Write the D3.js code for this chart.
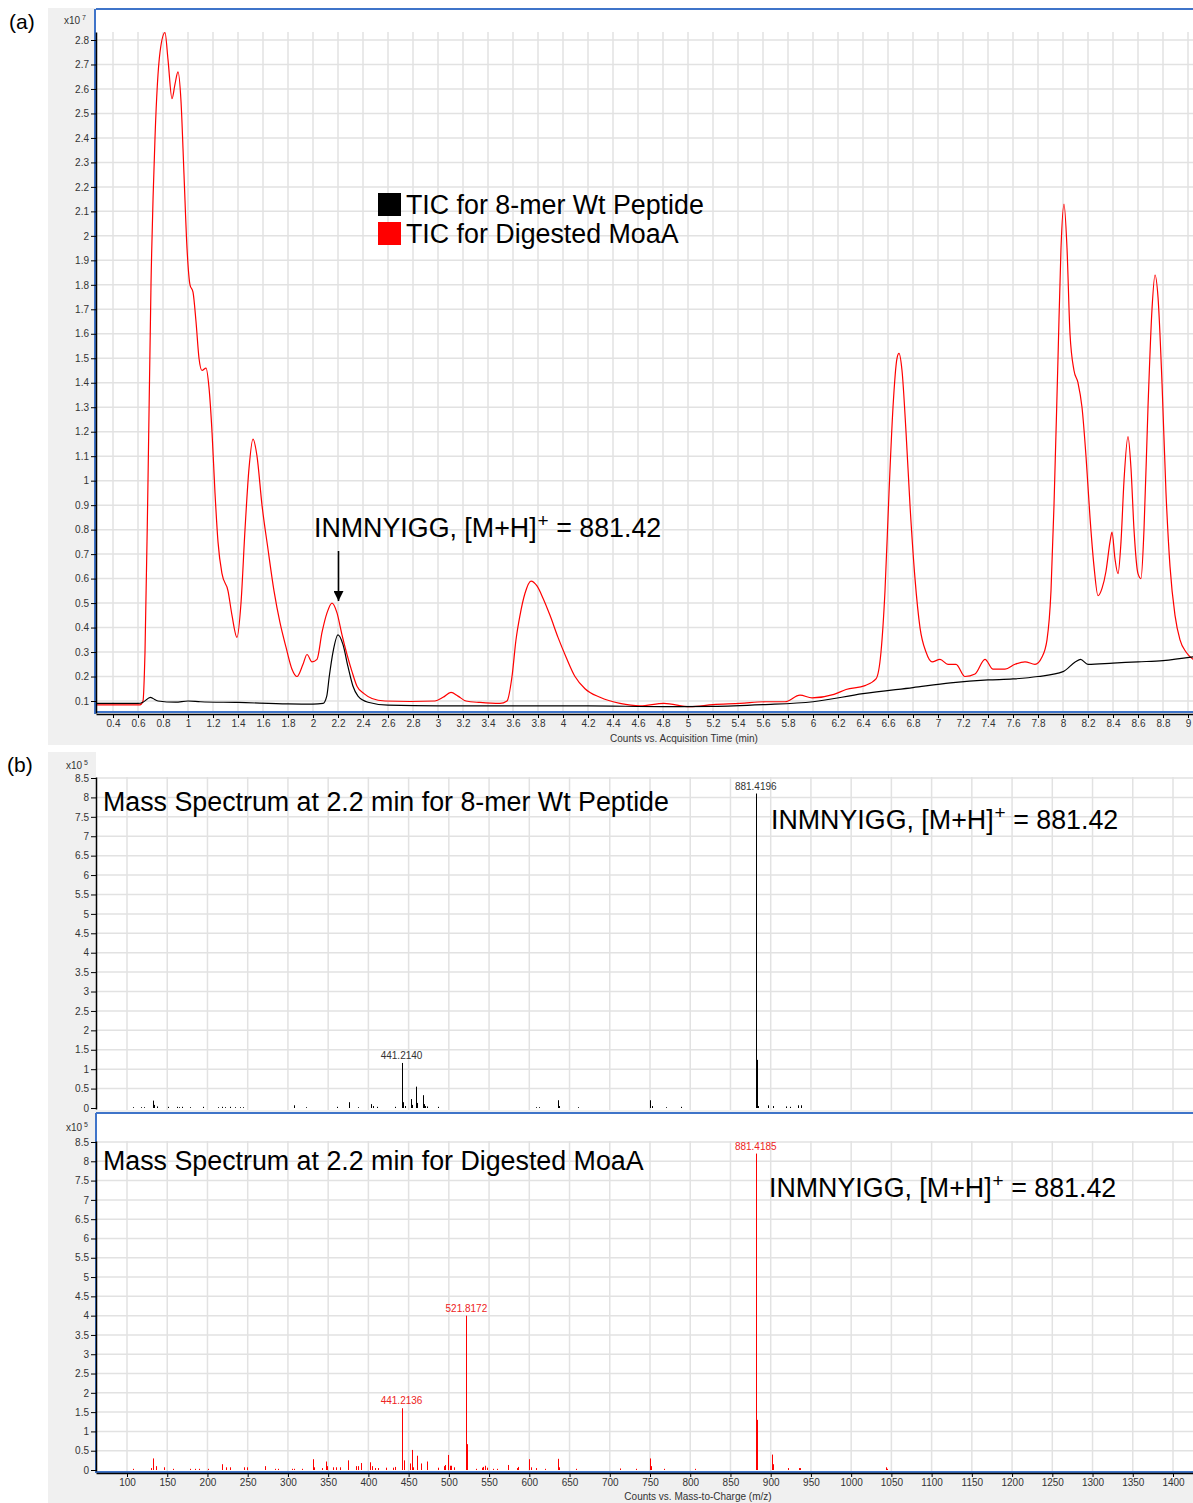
<!DOCTYPE html>
<html>
<head>
<meta charset="utf-8">
<script src="https://cdn.jsdelivr.net/npm/d3@7"></script>
<style>
  body { margin: 0; background: #ffffff; }
  svg { display: block; }
  text { font-family: "Liberation Sans", Arial, Helvetica, sans-serif; }
</style>
</head>
<body>
<svg id="chart" width="1193" height="1503"></svg>
<script>
// ---------- (a) total ion chromatograms (counts x10^7 vs minutes) ----------
const timeMoaA = [0.264, 0.616, 0.64, 0.656, 0.68, 0.704, 0.736, 0.776, 0.816, 0.84, 0.872, 0.896, 0.92, 0.944,
  0.968, 0.992, 1.016, 1.04, 1.064, 1.088, 1.112, 1.144, 1.168, 1.192, 1.216, 1.24, 1.272, 1.32, 1.352, 1.392,
  1.424, 1.456, 1.488, 1.52, 1.552, 1.592, 1.64, 1.688, 1.736, 1.784, 1.832, 1.872, 1.92, 1.952, 1.992, 2.032,
  2.072, 2.112, 2.152, 2.192, 2.232, 2.272, 2.312, 2.352, 2.408, 2.472, 2.576, 2.776, 2.976, 3.04, 3.104, 3.16,
  3.224, 3.336, 3.496, 3.552, 3.592, 3.624, 3.656, 3.696, 3.744, 3.792, 3.84, 3.896, 3.96, 4.024, 4.096, 4.176,
  4.296, 4.456, 4.616, 4.808, 5.016, 5.2, 5.416, 5.624, 5.776, 5.896, 5.992, 6.168, 6.264, 6.416, 6.504, 6.544,
  6.576, 6.608, 6.64, 6.672, 6.688, 6.712, 6.744, 6.776, 6.816, 6.856, 6.904, 6.952, 7.016, 7.08, 7.144, 7.216,
  7.296, 7.376, 7.44, 7.536, 7.616, 7.696, 7.776, 7.832, 7.872, 7.904, 7.928, 7.96, 7.984, 8.008, 8.032, 8.056,
  8.088, 8.12, 8.152, 8.184, 8.216, 8.248, 8.28, 8.312, 8.344, 8.376, 8.392, 8.416, 8.44, 8.464, 8.488, 8.52,
  8.544, 8.568, 8.6, 8.624, 8.648, 8.68, 8.712, 8.736, 8.76, 8.792, 8.824, 8.856, 8.896, 8.936, 8.984, 9.04];
const ticMoaA = [0.084, 0.084, 0.1, 0.3, 1.0, 1.8, 2.4, 2.75, 2.83, 2.72, 2.56, 2.62, 2.67, 2.55,
  2.25, 1.95, 1.8, 1.77, 1.65, 1.5, 1.45, 1.46, 1.38, 1.2, 0.95, 0.75, 0.62, 0.55, 0.45, 0.36,
  0.5, 0.8, 1.05, 1.17, 1.1, 0.9, 0.72, 0.55, 0.42, 0.32, 0.23, 0.2, 0.25, 0.29, 0.26, 0.27,
  0.38, 0.46, 0.5, 0.46, 0.37, 0.29, 0.22, 0.16, 0.13, 0.11, 0.1, 0.098, 0.1, 0.115, 0.135, 0.12,
  0.1, 0.094, 0.09, 0.1, 0.2, 0.35, 0.45, 0.54, 0.59, 0.57, 0.52, 0.45, 0.36, 0.28, 0.2, 0.15,
  0.115, 0.09, 0.08, 0.09, 0.077, 0.085, 0.09, 0.097, 0.097, 0.124, 0.113, 0.127, 0.147, 0.163, 0.19, 0.3,
  0.55, 0.95, 1.3, 1.5, 1.52, 1.45, 1.2, 0.9, 0.6, 0.4, 0.3, 0.26, 0.27, 0.25, 0.25, 0.2,
  0.21, 0.27, 0.23, 0.23, 0.25, 0.26, 0.25, 0.28, 0.35, 0.55, 0.9, 1.5, 1.95, 2.13, 1.95, 1.6,
  1.45, 1.4, 1.3, 1.1, 0.85, 0.65, 0.53, 0.56, 0.63, 0.75, 0.79, 0.68, 0.62, 0.75, 1.0, 1.18,
  1.05, 0.8, 0.62, 0.6, 0.8, 1.3, 1.7, 1.84, 1.75, 1.4, 0.95, 0.65, 0.45, 0.35, 0.3, 0.27];

const timeWt = [0.264, 0.6, 0.64, 0.7, 0.72, 0.76, 0.9, 1.0, 1.1, 1.4, 1.8, 2.0, 2.08, 2.11, 2.13, 2.16, 2.2,
  2.24, 2.28, 2.32, 2.36, 2.44, 2.6, 3.0, 3.6, 4.2, 4.8, 5.2, 5.6, 6.0, 6.4, 6.8, 7.1, 7.4, 7.6, 7.8, 8.0,
  8.1, 8.14, 8.2, 8.4, 8.6, 8.8, 9.04];
const ticWt = [0.09, 0.09, 0.095, 0.115, 0.11, 0.1, 0.095, 0.1, 0.097, 0.094, 0.088, 0.087, 0.09, 0.12, 0.2, 0.3, 0.37,
  0.33, 0.24, 0.16, 0.12, 0.095, 0.083, 0.08, 0.08, 0.08, 0.077, 0.078, 0.085, 0.097, 0.13, 0.155, 0.174, 0.186, 0.19, 0.2, 0.22,
  0.26, 0.27, 0.25, 0.255, 0.26, 0.265, 0.28];

const timeTicks = d3.range(2, 46, 1).map(i => +(i * 0.2).toFixed(1));     // 0.4 .. 9
const ticTicks = d3.range(1, 29).map(i => +(i * 0.1).toFixed(1));        // 0.1 .. 2.8
const legendLabels = ["TIC for 8-mer Wt Peptide", "TIC for Digested MoaA"];
const legendColors = ["#000000", "#ff0000"];

// ---------- (b) mass spectra at 2.2 min (counts x10^5 vs m/z) ----------
const mzWt = [107, 118, 121.5, 132.7, 134, 137, 151, 162, 165, 168,
  178, 195, 213.5, 217.7, 221.8, 228, 234, 240.4, 244.6, 307.5,
  323, 360.6, 375.5, 387.5, 403, 405.3, 410.3, 433, 441.2140, 442.2,
  443.2, 445.5, 452.6, 453.8, 459.2, 460.2, 467.5, 468.5, 470, 472.5,
  487, 608, 612, 635.7, 636.7, 660, 750, 752.5, 770, 788,
  881.4196, 882.42, 883.42, 884.4, 897, 903, 919, 924, 934, 938];
const intWt = [0.02, 0.02, 0.02, 0.19, 0.08, 0.04, 0.03, 0.03, 0.02, 0.03,
  0.02, 0.03, 0.02, 0.03, 0.02, 0.03, 0.02, 0.02, 0.02, 0.07,
  0.02, 0.03, 0.15, 0.02, 0.1, 0.05, 0.03, 0.03, 1.16, 0.52,
  0.15, 0.05, 0.23, 0.08, 0.55, 0.13, 0.33, 0.1, 0.05, 0.04,
  0.03, 0.02, 0.02, 0.2, 0.05, 0.02, 0.2, 0.05, 0.02, 0.03,
  8.1, 1.24, 0.27, 0.05, 0.07, 0.05, 0.04, 0.03, 0.07, 0.07];

const mzMoaA = [107, 129.5, 131.7, 136, 146, 157, 178, 184, 189, 200.5,
  218, 222.5, 228, 245.8, 249, 271.5, 284.5, 287.6, 304.8, 307,
  318, 331.4, 333, 342.4, 347, 349, 356, 360, 364.7, 374.5,
  384.6, 387, 391.4, 402.5, 404, 408, 412, 422, 430, 433,
  441.2136, 442.2, 444.6, 451.7, 454, 456, 460, 466, 472.5, 486.8,
  493.5, 495, 499.4, 501, 503, 506.8, 521.8172, 522.3, 533.4, 541,
  543, 545, 548, 555, 560, 574, 584.5, 586, 599, 601.5,
  608, 620, 635.5, 636.5, 657.6, 712.7, 733, 750, 751.5, 768,
  805.6, 881.4185, 882.42, 883.42, 902, 903, 921.5, 935, 937, 1043,
  1044.5];
const intMoaA = [0.03, 0.05, 0.3, 0.1, 0.07, 0.03, 0.03, 0.03, 0.03, 0.03,
  0.15, 0.07, 0.07, 0.07, 0.07, 0.1, 0.03, 0.03, 0.03, 0.03,
  0.03, 0.28, 0.07, 0.05, 0.22, 0.1, 0.07, 0.07, 0.07, 0.25,
  0.1, 0.1, 0.18, 0.2, 0.1, 0.05, 0.05, 0.06, 0.06, 0.08,
  1.6, 0.73, 0.25, 0.17, 0.52, 0.07, 0.37, 0.17, 0.22, 0.06,
  0.1, 0.13, 0.39, 0.11, 0.11, 0.07, 4.0, 0.67, 0.03, 0.06,
  0.08, 0.11, 0.06, 0.03, 0.03, 0.13, 0.05, 0.08, 0.28, 0.07,
  0.05, 0.03, 0.29, 0.07, 0.03, 0.04, 0.03, 0.3, 0.1, 0.03,
  0.03, 8.2, 1.3, 0.35, 0.4, 0.15, 0.05, 0.05, 0.05, 0.07,
  0.03];

const labelledWt = [441.2140, 881.4196];
const labelledMoaA = [441.2136, 521.8172, 881.4185];
const mzTicks = d3.range(100, 1401, 50);
const countTicks = d3.range(0, 8.51, 0.5).map(v => +v.toFixed(1));
const spectrumTitles = ["Mass Spectrum at 2.2 min for 8-mer Wt Peptide", "Mass Spectrum at 2.2 min for Digested MoaA"];

// ---------- drawing ----------
const svg = d3.select("#chart");
const panelGray = "#f0f0f0", gridCol = "#e2e2e2", frameBlue = "#3f74c9", tickCol = "#333333";
const bigFont = "26.8px";
const fmtTick = d => String(+d.toFixed(1));

function styleAxis(g) {
  g.selectAll("text").attr("fill", tickCol).style("font-size", "10px")
    .style("font-family", '"Liberation Sans", Arial, sans-serif');
  g.selectAll("line").attr("stroke", "#000");
  g.select(".domain").attr("stroke", "#000").attr("stroke-width", 1.5);
}

function sciLabel(x, y, exp) {
  const t = svg.append("text").attr("x", x).attr("y", y).attr("text-anchor", "end")
    .attr("fill", tickCol).style("font-size", "10px");
  t.append("tspan").text("x10");
  t.append("tspan").attr("dx", 2).attr("dy", -4).style("font-size", "7px").text(exp);
}

function mhLabel(x, y) {
  const t = svg.append("text").attr("x", x).attr("y", y).attr("fill", "#000").style("font-size", bigFont);
  t.append("tspan").text("INMNYIGG, [M+H]");
  t.append("tspan").attr("dx", 1).attr("dy", -10).style("font-size", "19px").text("+");
  t.append("tspan").attr("dy", 10).text(" = 881.42");
}

// ===== panel (a) =====
const ax = { left: 96, right: 1193, top: 32, bottom: 713 };
const xA = d3.scaleLinear().domain([0.4, 9]).range([113, 1188]);
const yA = d3.scaleLinear().domain([0.1, 2.8]).range([701, 40]);

svg.append("rect").attr("x", 48).attr("y", 8).attr("width", 1193 - 48).attr("height", 745 - 8).attr("fill", panelGray);
svg.append("rect").attr("x", ax.left).attr("y", 9).attr("width", ax.right - ax.left).attr("height", ax.bottom - 9).attr("fill", "#fff");

const gridA = svg.append("g");
gridA.selectAll("line.v").data(timeTicks).join("line")
  .attr("x1", d => xA(d)).attr("x2", d => xA(d)).attr("y1", ax.top).attr("y2", ax.bottom)
  .attr("stroke", gridCol).attr("stroke-width", 1.5);
gridA.selectAll("line.h").data(ticTicks).join("line")
  .attr("x1", ax.left).attr("x2", ax.right).attr("y1", d => yA(d)).attr("y2", d => yA(d))
  .attr("stroke", gridCol).attr("stroke-width", 1.5);

svg.append("clipPath").attr("id", "clipA").append("rect")
  .attr("x", ax.left).attr("y", 10).attr("width", ax.right - ax.left).attr("height", ax.bottom - 10);

const lineA = d3.line().x(d => xA(d[0])).y(d => yA(d[1])).curve(d3.curveMonotoneX);
const plotA = svg.append("g").attr("clip-path", "url(#clipA)");
plotA.append("path").datum(d3.zip(timeMoaA, ticMoaA)).attr("d", lineA)
  .attr("fill", "none").attr("stroke", legendColors[1]).attr("stroke-width", 1.2);
plotA.append("path").datum(d3.zip(timeWt, ticWt)).attr("d", lineA)
  .attr("fill", "none").attr("stroke", legendColors[0]).attr("stroke-width", 1.2);

// frame
svg.append("line").attr("x1", ax.left).attr("x2", ax.right).attr("y1", 9).attr("y2", 9).attr("stroke", frameBlue).attr("stroke-width", 2);
svg.append("line").attr("x1", ax.left - 1).attr("x2", ax.left - 1).attr("y1", 9).attr("y2", ax.bottom + 1).attr("stroke", frameBlue).attr("stroke-width", 2);
svg.append("line").attr("x1", ax.left).attr("x2", ax.right).attr("y1", ax.bottom - 1).attr("y2", ax.bottom - 1).attr("stroke", frameBlue).attr("stroke-width", 2);

const yAxisA = yA.copy().domain([yA.invert(ax.bottom), yA.invert(ax.top)]).range([ax.bottom, ax.top]);
svg.append("g").attr("transform", `translate(${ax.left},0)`)
  .call(d3.axisLeft(yAxisA).tickValues(ticTicks).tickFormat(fmtTick).tickSize(5).tickSizeOuter(0).tickPadding(2))
  .call(styleAxis);
const xAxisA = xA.copy().domain([xA.invert(ax.left), xA.invert(ax.right)]).range([ax.left, ax.right]);
svg.append("g").attr("transform", `translate(0,${ax.bottom + 1})`)
  .call(d3.axisBottom(xAxisA).tickValues(timeTicks).tickFormat(fmtTick).tickSize(4).tickSizeOuter(0).tickPadding(2))
  .call(styleAxis);
svg.append("text").attr("x", 684).attr("y", 742).attr("text-anchor", "middle").attr("fill", tickCol)
  .style("font-size", "10px").text("Counts vs. Acquisition Time (min)");
sciLabel(86, 24, "7");

// legend
const leg = svg.append("g");
legendLabels.forEach((lab, i) => {
  leg.append("rect").attr("x", 378).attr("y", 193 + i * 29).attr("width", 23).attr("height", 23).attr("fill", legendColors[i]);
  leg.append("text").attr("x", 406).attr("y", 214 + i * 29).attr("fill", "#000").style("font-size", bigFont).text(lab);
});

// peak annotation with arrow
mhLabel(314, 537);
svg.append("defs").append("marker").attr("id", "arrow").attr("viewBox", "0 0 10 10")
  .attr("refX", 10).attr("refY", 5).attr("markerWidth", 10).attr("markerHeight", 10)
  .attr("markerUnits", "userSpaceOnUse").attr("orient", "auto")
  .append("path").attr("d", "M0,0 L10,5 L0,10 Z").attr("fill", "#000");
svg.append("line").attr("x1", xA(2.204)).attr("x2", xA(2.204)).attr("y1", 551).attr("y2", 601)
  .attr("stroke", "#000").attr("stroke-width", 1.6).attr("marker-end", "url(#arrow)");

svg.append("text").attr("x", 9).attr("y", 29).attr("fill", "#000").style("font-size", "21px").text("(a)");

// ===== panel (b) =====
const xB = d3.scaleLinear().domain([100, 1400]).range([127, 1173]);
const bx = { left: 96, right: 1193 };
const sub = [
  { top: 777, bottom: 1110, y: d3.scaleLinear().domain([0, 8.5]).range([1108, 778]), mz: mzWt, it: intWt,
    color: "#000000", labelColor: "#333333", labelled: labelledWt, title: spectrumTitles[0],
    titleY: 811, mhX: 771, mhY: 829, sciY: 769, framed: false, bgTop: 752 },
  { top: 1141, bottom: 1472, y: d3.scaleLinear().domain([0, 8.5]).range([1470, 1142]), mz: mzMoaA, it: intMoaA,
    color: "#ff0000", labelColor: "#ee2222", labelled: labelledMoaA, title: spectrumTitles[1],
    titleY: 1170, mhX: 769, mhY: 1197, sciY: 1131, framed: true, bgTop: 1113 }
];

svg.append("rect").attr("x", 48).attr("y", 752).attr("width", 1193 - 48).attr("height", 1503 - 752).attr("fill", panelGray);

sub.forEach(s => {
  svg.append("rect").attr("x", bx.left).attr("y", s.bgTop).attr("width", bx.right - bx.left)
    .attr("height", s.bottom - s.bgTop).attr("fill", "#fff");
  const g = svg.append("g");
  g.selectAll("line.v").data(mzTicks).join("line")
    .attr("x1", d => xB(d)).attr("x2", d => xB(d)).attr("y1", s.top).attr("y2", s.bottom)
    .attr("stroke", gridCol).attr("stroke-width", 1.5);
  g.selectAll("line.h").data(countTicks.filter(v => v > 0)).join("line")
    .attr("x1", bx.left).attr("x2", bx.right).attr("y1", d => s.y(d)).attr("y2", d => s.y(d))
    .attr("stroke", gridCol).attr("stroke-width", 1.5);

  const peaks = d3.zip(s.mz, s.it);
  g.selectAll("line.pk").data(peaks).join("line")
    .attr("x1", d => Math.round(xB(d[0])) + 0.5).attr("x2", d => Math.round(xB(d[0])) + 0.5)
    .attr("y1", s.y(0)).attr("y2", d => s.y(d[1]))
    .attr("stroke", s.color).attr("stroke-width", 1);

  g.selectAll("text.pl").data(peaks.filter(d => s.labelled.includes(d[0]))).join("text")
    .attr("x", d => xB(d[0])).attr("y", d => s.y(d[1]) - 4).attr("text-anchor", "middle")
    .attr("fill", s.labelColor).style("font-size", "10px").text(d => d[0].toFixed(4));

  if (s.framed) {
    svg.append("line").attr("x1", bx.left).attr("x2", bx.right).attr("y1", s.bgTop).attr("y2", s.bgTop).attr("stroke", frameBlue).attr("stroke-width", 2);
    svg.append("line").attr("x1", bx.left).attr("x2", bx.left).attr("y1", s.bgTop).attr("y2", s.bottom + 1).attr("stroke", frameBlue).attr("stroke-width", 2);
    svg.append("line").attr("x1", bx.left).attr("x2", bx.right).attr("y1", s.bottom).attr("y2", s.bottom).attr("stroke", frameBlue).attr("stroke-width", 2);
  }

  const yAx = s.y.copy().domain([s.y.invert(s.bottom - 1), s.y.invert(s.top)]).range([s.bottom - 1, s.top]);
  svg.append("g").attr("transform", `translate(${bx.left},0)`)
    .call(d3.axisLeft(yAx).tickValues(countTicks).tickFormat(fmtTick).tickSize(5).tickSizeOuter(0).tickPadding(2))
    .call(styleAxis);

  sciLabel(88, s.sciY, "5");
  svg.append("text").attr("x", 103).attr("y", s.titleY).attr("fill", "#000").style("font-size", bigFont).text(s.title);
  mhLabel(s.mhX, s.mhY);
});

const xAxisB = xB.copy().domain([xB.invert(bx.left), xB.invert(bx.right)]).range([bx.left, bx.right]);
svg.append("g").attr("transform", "translate(0,1473)")
  .call(d3.axisBottom(xAxisB).tickValues(mzTicks).tickFormat(d3.format("d")).tickSize(4).tickSizeOuter(0).tickPadding(2))
  .call(styleAxis);
svg.append("text").attr("x", 698).attr("y", 1500).attr("text-anchor", "middle").attr("fill", tickCol)
  .style("font-size", "10px").text("Counts vs. Mass-to-Charge (m/z)");

svg.append("text").attr("x", 7).attr("y", 772).attr("fill", "#000").style("font-size", "21px").text("(b)");
</script>
</body>
</html>
